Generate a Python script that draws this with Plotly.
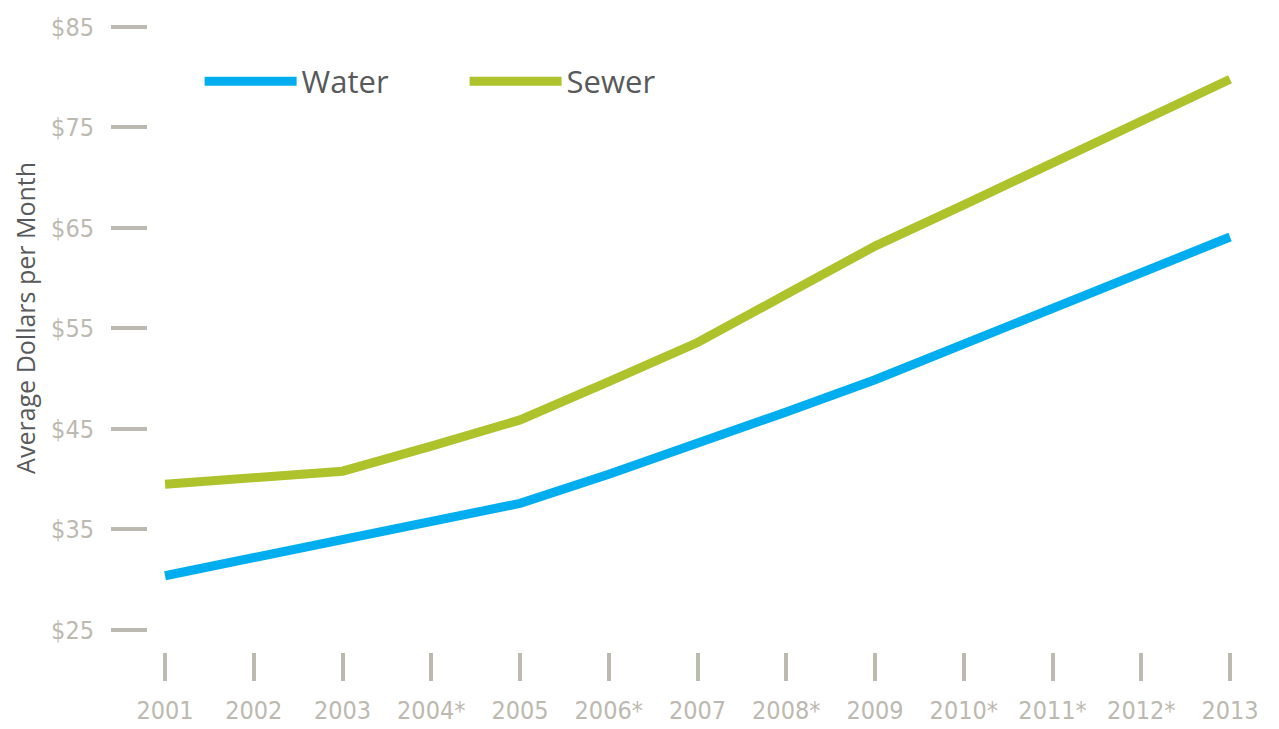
import plotly.graph_objects as go

years = [2001, 2002, 2003, 2004, 2005, 2006, 2007, 2008, 2009, 2010, 2011, 2012, 2013]
year_labels = ["2001", "2002", "2003", "2004*", "2005", "2006*", "2007", "2008*",
               "2009", "2010*", "2011*", "2012*", "2013"]
water = [30.4, 32.2, 34.0, 35.8, 37.6, 40.5, 43.5, 46.7, 49.9, 53.5, 57.0, 60.6, 64.1]
sewer = [39.5, 40.2, 40.8, 43.3, 45.9, 49.7, 53.6, 58.4, 63.2, 67.3, 71.4, 75.6, 79.8]
y_ticks = [25, 35, 45, 55, 65, 75, 85]
y_labels = ["$25", "$35", "$45", "$55", "$65", "$75", "$85"]

GREY = "#bcb9b1"
TEXT = "#58595b"
tick_font = dict(family="DejaVu Sans Condensed, Liberation Sans Narrow, Liberation Sans, sans-serif",
                 size=25, color=GREY)

fig = go.Figure()
fig.add_trace(go.Scatter(x=years, y=water, mode="lines", name="Water",
                         line=dict(color="#00aeef", width=9)))
fig.add_trace(go.Scatter(x=years, y=sewer, mode="lines", name="Sewer",
                         line=dict(color="#adc22b", width=9)))

fig.update_layout(
    width=1271, height=721,
    margin=dict(l=140, r=9, t=7, b=77, autoexpand=False),
    paper_bgcolor="white", plot_bgcolor="white",
    showlegend=True,
    legend=dict(orientation="h", x=0.046, y=0.938, xanchor="left", yanchor="top",
                font=dict(family="Open Sans, sans-serif", size=31, color=TEXT),
                itemwidth=92, entrywidth=158, entrywidthmode="pixels",
                bgcolor="rgba(0,0,0,0)"),
    xaxis=dict(range=[2000.808, 2013.45], tickmode="array", tickvals=years,
               ticktext=year_labels, ticks="outside", ticklen=28, tickwidth=4,
               tickcolor=GREY, showgrid=False, zeroline=False, showline=False,
               tickfont=tick_font, ticklabelstandoff=8, automargin=False),
    yaxis=dict(range=[22.81, 86.19], tickmode="array", tickvals=y_ticks,
               ticktext=y_labels, ticks="outside", ticklen=36, tickwidth=4,
               tickcolor=GREY, showgrid=False, zeroline=False, showline=False,
               tickfont=tick_font, ticklabelstandoff=12, automargin=False),
    annotations=[dict(text="Average Dollars per Month", xref="paper", yref="paper",
                      x=-0.109, y=0.524, xanchor="center", yanchor="middle",
                      textangle=-90, showarrow=False,
                      font=dict(family="Open Sans, sans-serif", size=25, color=TEXT))],
)

fig.write_html("out.html")
